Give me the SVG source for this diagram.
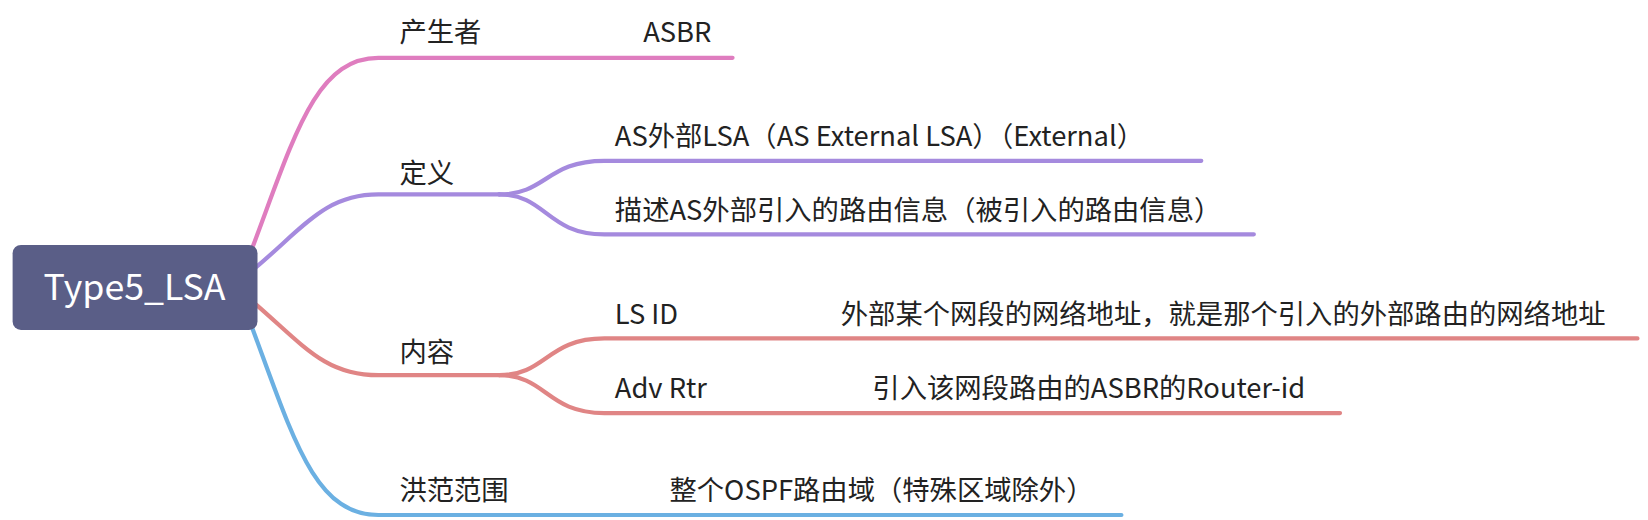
<svg xmlns="http://www.w3.org/2000/svg" width="1648" height="520" viewBox="0 0 1648 520">
<style>
text{font-family:"Microsoft YaHei","Noto Sans CJK SC","Noto Sans",sans-serif;font-size:26px;fill:#222}
.c{fill:none;stroke-width:4;stroke-linecap:round}
.p{stroke:#df7dbf}.v{stroke:#a58ade}.r{stroke:#e08585}.b{stroke:#6bb0e2}
</style>
<rect width="1648" height="520" fill="#fff"/>
<g transform="scale(1.051)">
<g id="connectors">
<path class="c p" d="M240,236 C280,130 300,55 360,55 L697,55"/>
<path class="c v" d="M244,254 C290,215 310,185 360,185 L475,185"/>
<path class="c v" d="M475,185 C520,185 520,153 575,153 L1143,153"/>
<path class="c v" d="M475,185 C520,185 520,223 575,223 L1193,223"/>
<path class="c r" d="M244,290 C290,330 310,357 360,357 L475,357"/>
<path class="c r" d="M475,357 C520,357 520,322 575,322 L1558,322"/>
<path class="c r" d="M475,357 C520,357 520,393 575,393 L1275,393"/>
<path class="c b" d="M240,312 C280,420 300,490 360,490 L1067,490"/>
</g>
<g id="root"><rect x="12" y="233" width="233" height="81" rx="8" fill="#5a5e87"/><text x="128" y="285" text-anchor="middle" style="font-size:34px;fill:#fff">Type5_LSA</text></g>
<g id="n1"><text x="380" y="40">产生者</text><text x="612" y="40">ASBR</text></g>
<g id="n2"><text x="380" y="174">定义</text></g>
<g id="n3"><text x="585" y="139">AS外部LSA（AS External LSA）（External）</text></g>
<g id="n4"><text x="585" y="209">描述AS外部引入的路由信息（被引入的路由信息）</text></g>
<g id="n5"><text x="380" y="344">内容</text></g>
<g id="n6"><text x="585" y="308">LS ID</text><text x="800" y="308">外部某个网段的网络地址，就是那个引入的外部路由的网络地址</text></g>
<g id="n7"><text x="585" y="379">Adv Rtr</text><text x="830" y="379">引入该网段路由的ASBR的Router-id</text></g>
<g id="n8"><text x="380" y="476">洪范范围</text><text x="637" y="476">整个OSPF路由域（特殊区域除外）</text></g>
</g>
</svg>
